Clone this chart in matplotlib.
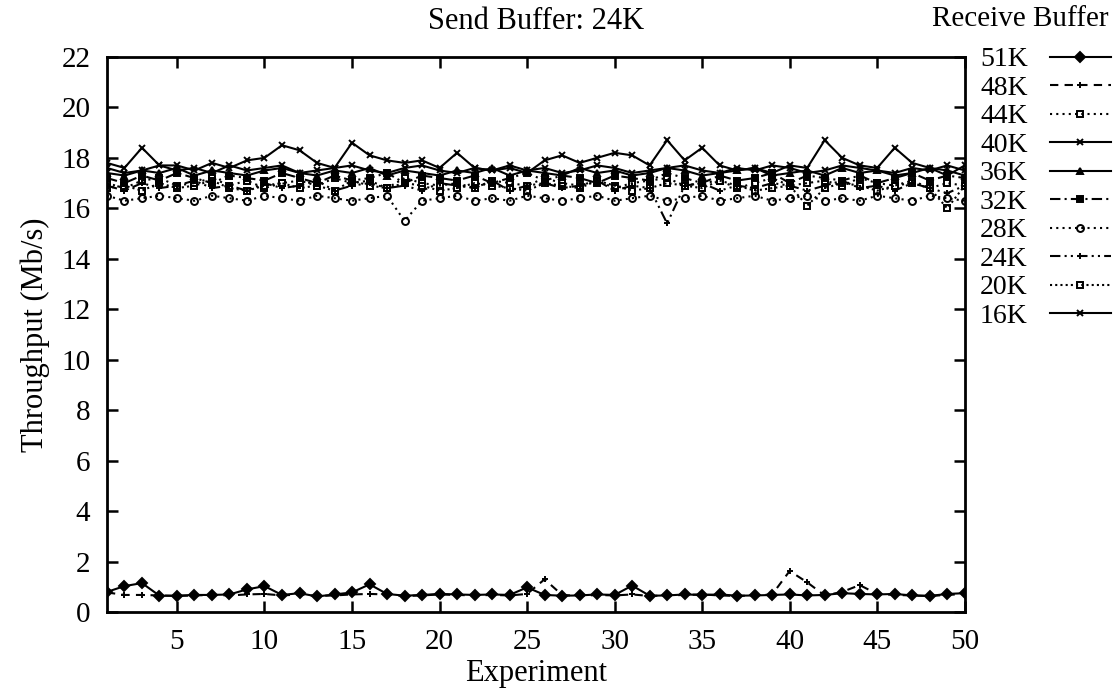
import matplotlib.pyplot as plt

plt.rcParams['font.family'] = ['Liberation Serif', 'DejaVu Serif']

# Experiment numbers
experiments = list(range(1, 51))

# Throughput (Mb/s) per receive buffer size, send buffer fixed at 24K
t51k = [0.80, 1.03, 1.15, 0.65, 0.65, 0.68, 0.68, 0.70, 0.90, 1.03,
        0.68, 0.75, 0.62, 0.70, 0.78, 1.10, 0.72, 0.65, 0.68, 0.72,
        0.70, 0.68, 0.70, 0.68, 0.98, 0.68, 0.65, 0.66, 0.70, 0.68,
        1.05, 0.65, 0.66, 0.70, 0.68, 0.70, 0.65, 0.66, 0.68, 0.70,
        0.66, 0.68, 0.75, 0.72, 0.70, 0.72, 0.66, 0.64, 0.72, 0.75]
t48k = [0.78, 0.68, 0.68, 0.66, 0.64, 0.66, 0.68, 0.66, 0.70, 0.72,
        0.66, 0.70, 0.64, 0.66, 0.70, 0.72, 0.70, 0.64, 0.66, 0.70,
        0.68, 0.66, 0.68, 0.66, 0.72, 1.30, 0.68, 0.64, 0.68, 0.66,
        0.70, 0.64, 0.66, 0.68, 0.70, 0.66, 0.64, 0.66, 0.70, 1.63,
        1.18, 0.66, 0.80, 1.07, 0.72, 0.68, 0.66, 0.64, 0.68, 0.72]
t44k = [17.0, 16.8, 17.1, 17.2, 16.9, 17.0, 17.2, 16.9, 17.1, 16.8,
        17.0, 17.1, 16.9, 17.2, 17.0, 17.1, 16.8, 17.2, 17.0, 16.9,
        17.0, 16.8, 17.1, 17.0, 16.9, 17.2, 17.0, 16.9, 17.1, 16.8,
        17.0, 17.1, 17.2, 16.9, 17.0, 17.1, 16.8, 17.0, 17.2, 16.9,
        17.0, 17.1, 16.9, 17.2, 17.0, 16.9, 17.1, 16.8, 17.0, 16.9]
t40k = [17.6, 17.4, 17.5, 17.7, 17.5, 17.6, 17.4, 17.7, 17.5, 17.6,
        17.7, 17.4, 17.5, 17.6, 17.7, 17.5, 17.4, 17.6, 17.7, 17.5,
        17.4, 17.6, 17.5, 17.7, 17.5, 17.6, 17.4, 17.5, 17.7, 17.6,
        17.4, 17.5, 17.6, 17.7, 17.5, 17.4, 17.6, 17.5, 17.7, 17.6,
        17.4, 17.5, 17.7, 17.6, 17.5, 17.4, 17.6, 17.5, 17.7, 17.5]
t36k = [17.4, 17.3, 17.5, 17.4, 17.6, 17.3, 17.5, 17.4, 17.3, 17.5,
        17.6, 17.4, 17.3, 17.5, 17.4, 17.6, 17.3, 17.5, 17.4, 17.3,
        17.5, 17.4, 17.6, 17.3, 17.5, 17.4, 17.3, 17.6, 17.4, 17.5,
        17.3, 17.4, 17.6, 17.5, 17.3, 17.4, 17.5, 17.6, 17.3, 17.4,
        17.5, 17.3, 17.6, 17.4, 17.5, 17.3, 17.4, 17.6, 17.5, 17.3]
t32k = [17.2, 17.0, 17.3, 17.1, 17.4, 17.2, 17.0, 17.3, 17.2, 17.1,
        17.4, 17.2, 17.0, 17.3, 17.1, 17.2, 17.4, 17.0, 17.3, 17.2,
        17.1, 17.3, 17.0, 17.2, 17.4, 17.1, 17.3, 17.2, 17.0, 17.3,
        17.2, 17.1, 17.4, 17.2, 17.0, 17.3, 17.1, 17.2, 17.4, 17.0,
        17.3, 17.2, 17.1, 17.3, 17.0, 17.2, 17.4, 17.1, 17.3, 17.2]
t28k = [16.5, 16.3, 16.4, 16.5, 16.4, 16.3, 16.5, 16.4, 16.3, 16.5,
        16.4, 16.3, 16.5, 16.4, 16.3, 16.4, 16.5, 15.5, 16.3, 16.4,
        16.5, 16.3, 16.4, 16.3, 16.5, 16.4, 16.3, 16.4, 16.5, 16.3,
        16.4, 16.5, 16.3, 16.4, 16.5, 16.3, 16.4, 16.5, 16.3, 16.4,
        16.5, 16.3, 16.4, 16.3, 16.5, 16.4, 16.3, 16.5, 16.4, 16.3]
t24k = [16.9, 16.7, 17.0, 16.8, 16.9, 17.1, 16.8, 16.9, 16.7, 17.0,
        16.8, 16.9, 17.1, 16.7, 16.9, 17.0, 16.8, 16.9, 16.7, 17.0,
        16.9, 16.8, 17.1, 16.7, 16.9, 17.0, 16.8, 16.9, 17.1, 16.7,
        16.9, 16.8, 15.4, 16.9, 17.0, 16.7, 16.9, 16.8, 17.0, 16.9,
        16.7, 16.9, 17.1, 16.8, 16.9, 16.7, 17.0, 16.8, 16.6, 16.9]
t20k = [16.8, 16.9, 16.7, 17.0, 16.8, 16.9, 17.1, 16.8, 16.7, 16.9,
        17.0, 16.8, 16.9, 16.7, 17.1, 16.9, 16.8, 17.0, 16.9, 16.7,
        16.8, 17.0, 16.9, 16.8, 16.7, 17.0, 16.9, 16.8, 17.1, 16.9,
        16.7, 16.8, 17.0, 16.9, 16.8, 17.1, 16.9, 16.7, 16.8, 16.9,
        16.1, 16.8, 17.0, 16.9, 16.7, 16.9, 17.0, 16.8, 16.0, 16.9]
t16k = [17.8, 17.6, 18.4, 17.7, 17.7, 17.5, 17.8, 17.6, 17.9, 18.0,
        18.5, 18.3, 17.8, 17.6, 18.6, 18.1, 17.9, 17.8, 17.9, 17.6,
        18.2, 17.6, 17.5, 17.6, 17.4, 17.9, 18.1, 17.8, 18.0, 18.2,
        18.1, 17.7, 18.7, 17.9, 18.4, 17.7, 17.5, 17.6, 17.4, 17.7,
        17.6, 18.7, 18.0, 17.7, 17.6, 18.4, 17.8, 17.6, 17.3, 17.7]

labels = ['51K', '48K', '44K', '40K', '36K', '32K', '28K', '24K', '20K', '16K']
series = [t51k, t48k, t44k, t40k, t36k, t32k, t28k, t24k, t20k, t16k]
styles = [
    ('-', 'D', 'k'),
    ((0, (4, 3)), '+', 'k'),
    ((0, (1, 2)), 's', 'none'),
    ('-', 'x', 'k'),
    ('-', '^', 'k'),
    ((0, (5, 2, 1, 2)), 's', 'k'),
    ((0, (1, 2)), 'o', 'none'),
    ((0, (5, 2, 1, 2, 1, 2)), '+', 'k'),
    ((0, (1, 1.5)), 's', 'none'),
    ('-', 'x', 'k'),
]

fig = plt.figure(figsize=(11.14, 6.94), dpi=100)
ax = fig.add_axes([0.096, 0.118, 0.770, 0.800])

for lab, vals, (ls, mk, mfc) in zip(labels, series, styles):
    ax.plot(experiments, vals, color='black', linestyle=ls, linewidth=1.5,
            marker=mk, markersize=5, markerfacecolor=mfc,
            markeredgecolor='black', markeredgewidth=1.4, label=lab)

ax.set_xlim(1, 50)
ax.set_ylim(0, 22)
ax.set_xticks(range(5, 51, 5))
ax.set_yticks(range(0, 23, 2))
ax.tick_params(direction='in', length=8, width=1.8, labelsize=21,
               top=True, right=True)
ax.tick_params(axis='x', pad=12)
ax.tick_params(axis='y', pad=12)
for sp in ax.spines.values():
    sp.set_linewidth(2)

ax.set_title('Send Buffer: 24K', fontsize=22, pad=20)
ax.set_xlabel('Experiment', fontsize=22, labelpad=3)
ax.set_ylabel('Throughput (Mb/s)', fontsize=22, labelpad=8)

fig.text(0.995, 0.972, 'Receive Buffer', ha='right', va='center', fontsize=21)
leg = ax.legend(loc='upper left', bbox_to_anchor=(0.995, 1.053), frameon=False,
                markerfirst=False, fontsize=20, handlelength=2.2,
                labelspacing=0.11, handletextpad=0.8, borderaxespad=0.3)

fig.savefig('out.png', dpi=100)
